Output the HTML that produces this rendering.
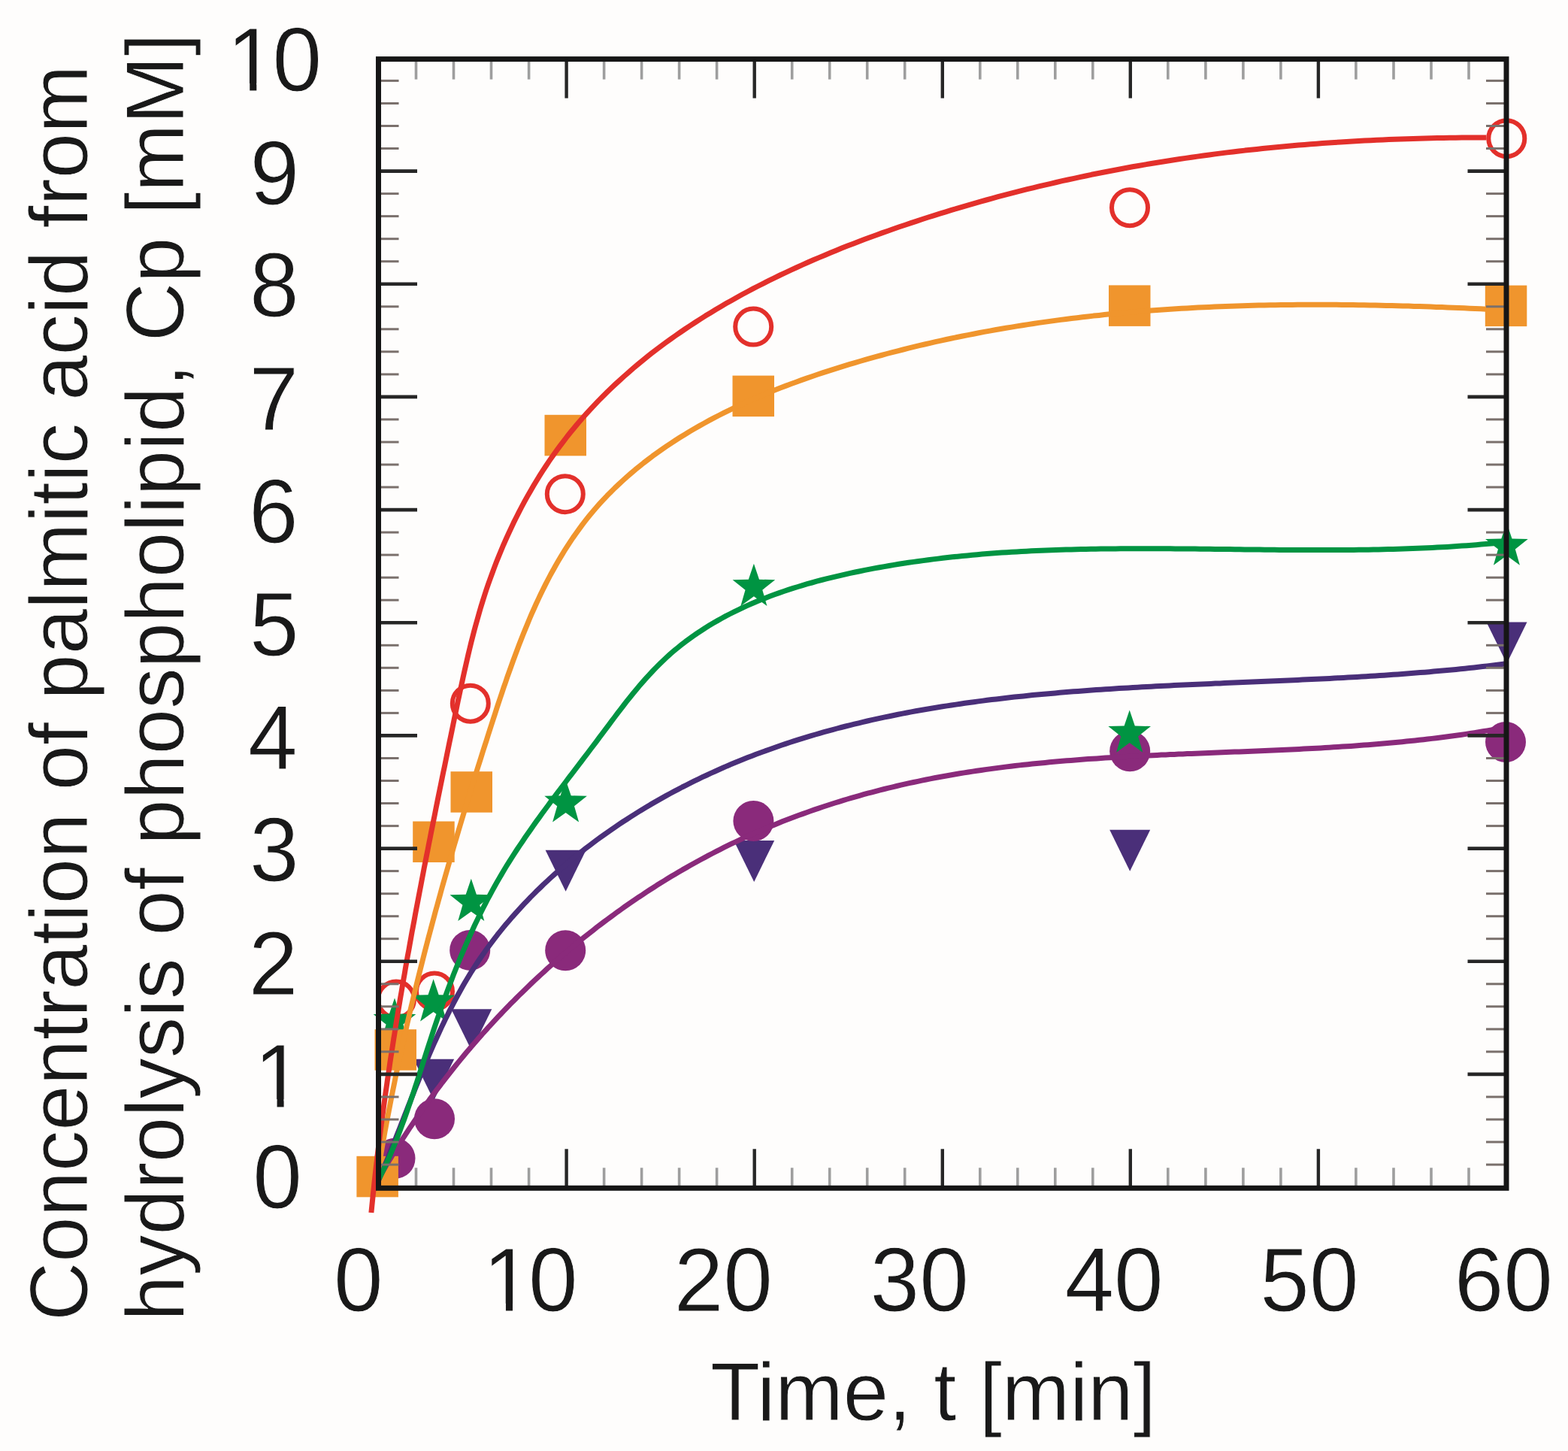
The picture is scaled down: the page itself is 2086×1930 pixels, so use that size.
<!DOCTYPE html><html><head><meta charset="utf-8"><title>Palmitic acid concentration vs time</title>
<style>html,body{margin:0;padding:0;background:#fefdfc;}svg{display:block}</style></head><body>
<svg xmlns="http://www.w3.org/2000/svg" width="2086" height="1930" viewBox="0 0 2086 1930">
<rect x="0" y="0" width="2086" height="1930" fill="#fefdfc"/>
<g fill="#4a2f79"><polygon points="499.5,1372 553.5,1372 526.5,1427"/><polygon points="550.2,1408.8 604.2,1408.8 577.2,1463.8"/><polygon points="600.3,1342.3 654.3,1342.3 627.3,1397.3"/><polygon points="725.6,1130.7 779.6,1130.7 752.6,1185.7"/><polygon points="976.2,1117.9 1030.2,1117.9 1003.2,1172.9"/><polygon points="1476.2,1103.8 1530.2,1103.8 1503.2,1158.8"/><polygon points="1977.5,827.5 2031.5,827.5 2004.5,882.5"/></g>
<g fill="#8a2a7b"><circle cx="525.5" cy="1540.8" r="27"/><circle cx="578" cy="1488.2" r="27"/><circle cx="625.2" cy="1263.9" r="27"/><circle cx="752.2" cy="1264.2" r="27"/><circle cx="1002.4" cy="1092" r="27"/><circle cx="1503.2" cy="999.2" r="27"/><circle cx="2003" cy="987" r="27"/></g>
<g fill="#fefdfc" stroke="#e3302b" stroke-width="6"><circle cx="527" cy="1329.5" r="24"/><circle cx="578" cy="1318.5" r="24"/><circle cx="625.8" cy="935.7" r="24"/><circle cx="751.8" cy="657.2" r="24"/><circle cx="1002.2" cy="434.6" r="24"/><circle cx="1503" cy="276.2" r="24"/><circle cx="2004.3" cy="184.2" r="24"/></g>
<g fill="#009442"><polygon points="525,1327.6 532.1,1348.6 553.3,1349.1 536.4,1362.6 542.5,1383.9 525,1371.2 507.5,1383.9 513.6,1362.6 496.7,1349.1 517.9,1348.6"/><polygon points="576.6,1302.3 583.7,1323.3 604.9,1323.8 588,1337.3 594.1,1358.6 576.6,1345.9 559.1,1358.6 565.2,1337.3 548.3,1323.8 569.5,1323.3"/><polygon points="626.8,1168.8 633.9,1189.8 655.1,1190.3 638.2,1203.8 644.3,1225.1 626.8,1212.4 609.3,1225.1 615.4,1203.8 598.5,1190.3 619.7,1189.8"/><polygon points="752.6,1037.3 759.7,1058.3 780.9,1058.8 764,1072.3 770.1,1093.6 752.6,1080.9 735.1,1093.6 741.2,1072.3 724.3,1058.8 745.5,1058.3"/><polygon points="1002.9,749.7 1010,770.7 1031.2,771.2 1014.3,784.7 1020.4,806 1002.9,793.3 985.4,806 991.5,784.7 974.6,771.2 995.8,770.7"/><polygon points="1502.7,944.5 1509.8,965.5 1531,966 1514.1,979.5 1520.2,1000.8 1502.7,988.1 1485.2,1000.8 1491.3,979.5 1474.4,966 1495.6,965.5"/><polygon points="2004.4,695.4 2011.5,716.4 2032.7,716.9 2015.8,730.4 2021.9,751.7 2004.4,739 1986.9,751.7 1993,730.4 1976.1,716.9 1997.3,716.4"/></g>
<g fill="#f0952d"><rect x="474.4" y="1537.8" width="55.5" height="54.5"/><rect x="498.5" y="1369.2" width="55.5" height="54.5"/><rect x="549.2" y="1092.5" width="55.5" height="54.5"/><rect x="599.5" y="1026.2" width="55.5" height="54.5"/><rect x="724.5" y="551.8" width="55.5" height="54.5"/><rect x="974.5" y="499.6" width="55.5" height="54.5"/><rect x="1475" y="379.4" width="55.5" height="54.5"/><rect x="1975.8" y="379.6" width="55.5" height="54.5"/></g>
<path d="M500.6,1573 L503.4,1568.1 L506.2,1563.2 L509.1,1558.3 L511.9,1553.4 L514.8,1548.5 L517.7,1543.6 L520.7,1538.8 L523.6,1533.9 L526.6,1529.1 L529.7,1524.3 L532.7,1519.5 L535.8,1514.7 L538.9,1509.9 L542,1505.1 L545.1,1500.4 L548.3,1495.7 L551.5,1490.9 L554.7,1486.2 L558,1481.5 L561.3,1476.9 L564.6,1472.2 L567.9,1467.6 L571.2,1462.9 L574.6,1458.3 L578,1453.7 L581.4,1449.1 L584.9,1444.6 L588.3,1440 L591.8,1435.5 L595.3,1431 L598.9,1426.5 L602.4,1422 L606,1417.5 L609.6,1413.1 L613.3,1408.6 L616.9,1404.2 L620.6,1399.8 L624.3,1395.5 L628,1391.1 L631.8,1386.8 L635.5,1382.4 L639.3,1378.1 L643.1,1373.8 L647,1369.6 L650.8,1365.3 L654.7,1361.1 L658.6,1356.9 L662.5,1352.7 L666.5,1348.5 L670.4,1344.4 L674.4,1340.3 L678.4,1336.1 L682.5,1332.1 L686.5,1328 L690.6,1323.9 L694.7,1319.9 L698.8,1315.9 L702.9,1311.9 L707.1,1307.9 L711.2,1304 L715.4,1300.1 L719.6,1296.2 L723.9,1292.3 L728.1,1288.4 L732.4,1284.6 L736.7,1280.8 L741,1277 L745.3,1273.2 L749.6,1269.5 L754,1265.8 L758.4,1262.1 L762.8,1258.4 L767.2,1254.8 L771.7,1251.1 L776.1,1247.5 L780.6,1243.9 L785.1,1240.4 L789.6,1236.9 L794.1,1233.3 L798.7,1229.9 L803.3,1226.4 L807.9,1223 L812.5,1219.6 L817.1,1216.2 L821.7,1212.8 L826.4,1209.5 L831,1206.2 L835.7,1202.9 L840.4,1199.7 L845.2,1196.4 L849.9,1193.2 L854.7,1190.1 L859.4,1186.9 L864.2,1183.8 L869,1180.7 L873.8,1177.6 L878.7,1174.6 L883.5,1171.6 L888.4,1168.6 L893.3,1165.6 L898.2,1162.7 L903.1,1159.8 L908,1156.9 L913,1154.1 L917.9,1151.3 L922.9,1148.5 L927.9,1145.7 L932.9,1143 L937.9,1140.3 L942.9,1137.6 L948,1135 L953,1132.4 L958.1,1129.8 L963.2,1127.2 L968.3,1124.7 L973.4,1122.2 L978.5,1119.8 L983.7,1117.3 L988.8,1114.9 L994,1112.6 L999.2,1110.2 L1004.4,1107.9 L1009.6,1105.7 L1014.8,1103.4 L1020,1101.2 L1025.3,1099 L1030.5,1096.9 L1035.8,1094.7 L1041.1,1092.6 L1046.4,1090.6 L1051.7,1088.5 L1057,1086.5 L1062.3,1084.5 L1067.7,1082.6 L1073,1080.7 L1078.4,1078.8 L1083.7,1076.9 L1089.1,1075.1 L1094.5,1073.3 L1099.9,1071.5 L1105.3,1069.7 L1110.7,1068 L1116.2,1066.3 L1121.6,1064.6 L1127,1063 L1132.5,1061.4 L1138,1059.8 L1143.4,1058.3 L1148.9,1056.7 L1154.4,1055.2 L1159.9,1053.8 L1165.4,1052.3 L1170.9,1050.9 L1176.4,1049.5 L1182,1048.1 L1187.5,1046.8 L1193,1045.5 L1198.6,1044.2 L1204.2,1042.9 L1209.7,1041.7 L1215.3,1040.5 L1220.9,1039.3 L1226.4,1038.1 L1232,1037 L1237.6,1035.9 L1243.2,1034.8 L1248.8,1033.7 L1254.4,1032.7 L1260.1,1031.7 L1265.7,1030.7 L1271.3,1029.7 L1276.9,1028.8 L1282.6,1027.9 L1288.2,1027 L1293.9,1026.1 L1299.5,1025.3 L1305.2,1024.5 L1310.8,1023.6 L1316.5,1022.9 L1322.1,1022.1 L1327.8,1021.4 L1333.5,1020.6 L1339.2,1019.9 L1344.8,1019.2 L1350.5,1018.6 L1356.2,1017.9 L1361.9,1017.3 L1367.6,1016.7 L1373.3,1016.1 L1379,1015.5 L1384.7,1014.9 L1390.4,1014.4 L1396.1,1013.8 L1401.8,1013.3 L1407.5,1012.8 L1413.2,1012.3 L1419,1011.8 L1424.7,1011.4 L1430.4,1010.9 L1436.1,1010.5 L1441.8,1010.1 L1447.6,1009.6 L1453.3,1009.2 L1459,1008.9 L1464.7,1008.5 L1470.5,1008.1 L1476.2,1007.8 L1481.9,1007.4 L1487.7,1007.1 L1493.4,1006.7 L1499.1,1006.4 L1504.9,1006.1 L1510.6,1005.8 L1516.3,1005.5 L1522.1,1005.2 L1527.8,1004.9 L1533.5,1004.7 L1539.3,1004.4 L1545,1004.1 L1550.8,1003.9 L1556.5,1003.6 L1562.2,1003.4 L1568,1003.1 L1573.7,1002.9 L1579.4,1002.6 L1585.2,1002.4 L1590.9,1002.2 L1596.7,1001.9 L1602.4,1001.7 L1608.1,1001.5 L1613.9,1001.2 L1619.6,1001 L1625.3,1000.8 L1631.1,1000.6 L1636.8,1000.3 L1642.5,1000.1 L1648.3,999.9 L1654,999.7 L1659.8,999.4 L1665.5,999.2 L1671.2,999 L1677,998.7 L1682.7,998.5 L1688.4,998.2 L1694.1,998 L1699.9,997.7 L1705.6,997.5 L1711.3,997.2 L1717,996.9 L1722.8,996.7 L1728.5,996.4 L1734.2,996.1 L1739.9,995.8 L1745.7,995.5 L1751.4,995.2 L1757.1,994.9 L1762.8,994.5 L1768.5,994.2 L1774.2,993.8 L1779.9,993.5 L1785.7,993.1 L1791.4,992.7 L1797.1,992.4 L1802.8,992 L1808.5,991.5 L1814.2,991.1 L1819.9,990.7 L1825.6,990.2 L1831.3,989.8 L1837,989.3 L1842.7,988.8 L1848.3,988.3 L1854,987.8 L1859.7,987.3 L1865.4,986.7 L1871.1,986.1 L1876.7,985.6 L1882.4,985 L1888.1,984.3 L1893.8,983.7 L1899.4,983.1 L1905.1,982.4 L1910.8,981.7 L1916.4,981 L1922.1,980.3 L1927.7,979.5 L1933.4,978.8 L1939,978 L1944.7,977.2 L1950.3,976.4 L1956,975.5 L1961.6,974.6 L1967.2,973.7 L1972.9,972.8 L1978.5,971.9 L1984.1,970.9 L1989.7,969.9 L1995.3,968.9 L2001,967.9" fill="none" stroke="#8a2a7b" stroke-width="7" stroke-linecap="butt" stroke-linejoin="round"/>
<path d="M500.1,1578 L502.5,1572.5 L504.9,1566.9 L507.2,1561.4 L509.6,1555.8 L511.9,1550.2 L514.2,1544.6 L516.5,1539 L518.8,1533.3 L521,1527.7 L523.3,1522.1 L525.5,1516.5 L527.7,1510.8 L529.9,1505.2 L532.2,1499.5 L534.4,1493.9 L536.6,1488.3 L538.8,1482.6 L541,1477 L543.2,1471.3 L545.4,1465.7 L547.6,1460.1 L549.9,1454.5 L552.1,1448.8 L554.3,1443.2 L556.6,1437.6 L558.9,1432 L561.1,1426.5 L563.4,1420.9 L565.8,1415.3 L568.1,1409.8 L570.4,1404.2 L572.8,1398.7 L575.2,1393.2 L577.6,1387.7 L580.1,1382.2 L582.6,1376.8 L585.1,1371.3 L587.6,1365.9 L590.2,1360.5 L592.8,1355.1 L595.5,1349.7 L598.1,1344.4 L600.9,1339.1 L603.6,1333.8 L606.4,1328.5 L609.3,1323.2 L612.2,1318 L615.1,1312.8 L618.1,1307.6 L621.1,1302.5 L624.2,1297.4 L627.3,1292.3 L630.5,1287.3 L633.8,1282.3 L637.1,1277.3 L640.5,1272.3 L643.9,1267.4 L647.4,1262.5 L650.9,1257.7 L654.5,1252.9 L658.1,1248.1 L661.8,1243.3 L665.6,1238.6 L669.4,1233.9 L673.2,1229.3 L677.2,1224.7 L681.1,1220.1 L685.1,1215.6 L689.2,1211.1 L693.3,1206.6 L697.4,1202.2 L701.6,1197.8 L705.8,1193.4 L710.1,1189.1 L714.4,1184.8 L718.8,1180.6 L723.2,1176.3 L727.6,1172.2 L732.1,1168 L736.7,1163.9 L741.2,1159.8 L745.8,1155.8 L750.5,1151.8 L755.1,1147.8 L759.8,1143.9 L764.6,1140 L769.3,1136.2 L774.1,1132.4 L779,1128.6 L783.8,1124.9 L788.7,1121.2 L793.6,1117.5 L798.6,1113.9 L803.6,1110.3 L808.6,1106.8 L813.6,1103.3 L818.7,1099.8 L823.7,1096.4 L828.8,1093 L834,1089.7 L839.1,1086.4 L844.3,1083.1 L849.4,1079.9 L854.6,1076.7 L859.9,1073.6 L865.1,1070.4 L870.3,1067.4 L875.6,1064.4 L880.9,1061.4 L886.2,1058.4 L891.5,1055.5 L896.8,1052.7 L902.2,1049.8 L907.5,1047 L912.9,1044.3 L918.2,1041.6 L923.6,1038.9 L929,1036.3 L934.4,1033.7 L939.8,1031.2 L945.3,1028.6 L950.7,1026.2 L956.2,1023.7 L961.7,1021.3 L967.1,1018.9 L972.6,1016.6 L978.1,1014.3 L983.7,1012 L989.2,1009.8 L994.7,1007.6 L1000.3,1005.5 L1005.8,1003.3 L1011.4,1001.3 L1017,999.2 L1022.6,997.2 L1028.2,995.2 L1033.8,993.2 L1039.4,991.3 L1045.1,989.4 L1050.7,987.5 L1056.4,985.7 L1062,983.9 L1067.7,982.1 L1073.4,980.4 L1079.1,978.7 L1084.8,977 L1090.5,975.3 L1096.2,973.7 L1102,972.1 L1107.7,970.6 L1113.5,969 L1119.2,967.5 L1125,966 L1130.8,964.6 L1136.5,963.2 L1142.3,961.8 L1148.1,960.4 L1153.9,959 L1159.8,957.7 L1165.6,956.4 L1171.4,955.1 L1177.2,953.9 L1183.1,952.7 L1189,951.5 L1194.8,950.3 L1200.7,949.1 L1206.6,948 L1212.4,946.9 L1218.3,945.8 L1224.2,944.8 L1230.1,943.7 L1236,942.7 L1242,941.7 L1247.9,940.7 L1253.8,939.8 L1259.8,938.9 L1265.7,938 L1271.6,937.1 L1277.6,936.2 L1283.6,935.3 L1289.5,934.5 L1295.5,933.7 L1301.5,932.9 L1307.4,932.1 L1313.4,931.3 L1319.4,930.6 L1325.4,929.9 L1331.4,929.2 L1337.4,928.5 L1343.4,927.8 L1349.5,927.1 L1355.5,926.5 L1361.5,925.9 L1367.5,925.2 L1373.6,924.6 L1379.6,924.1 L1385.6,923.5 L1391.7,922.9 L1397.7,922.4 L1403.8,921.9 L1409.8,921.3 L1415.9,920.8 L1421.9,920.3 L1428,919.8 L1434.1,919.4 L1440.1,918.9 L1446.2,918.5 L1452.3,918 L1458.4,917.6 L1464.4,917.2 L1470.5,916.8 L1476.6,916.4 L1482.7,916 L1488.8,915.6 L1494.9,915.2 L1501,914.9 L1507.1,914.5 L1513.2,914.2 L1519.2,913.8 L1525.3,913.5 L1531.4,913.2 L1537.5,912.8 L1543.6,912.5 L1549.7,912.2 L1555.9,911.9 L1562,911.6 L1568.1,911.3 L1574.2,911 L1580.3,910.8 L1586.4,910.5 L1592.5,910.2 L1598.6,909.9 L1604.7,909.7 L1610.8,909.4 L1616.9,909.1 L1623,908.9 L1629.1,908.6 L1635.2,908.3 L1641.3,908.1 L1647.4,907.8 L1653.5,907.6 L1659.6,907.3 L1665.7,907 L1671.8,906.8 L1677.9,906.5 L1684,906.3 L1690.1,906 L1696.2,905.7 L1702.3,905.5 L1708.3,905.2 L1714.4,904.9 L1720.5,904.7 L1726.6,904.4 L1732.7,904.1 L1738.7,903.8 L1744.8,903.5 L1750.9,903.3 L1756.9,903 L1763,902.7 L1769.1,902.4 L1775.1,902 L1781.2,901.7 L1787.2,901.4 L1793.3,901.1 L1799.3,900.7 L1805.3,900.4 L1811.4,900 L1817.4,899.7 L1823.4,899.3 L1829.5,898.9 L1835.5,898.6 L1841.5,898.2 L1847.5,897.8 L1853.5,897.3 L1859.5,896.9 L1865.5,896.5 L1871.5,896 L1877.5,895.6 L1883.5,895.1 L1889.4,894.6 L1895.4,894.2 L1901.4,893.7 L1907.3,893.1 L1913.3,892.6 L1919.2,892.1 L1925.2,891.5 L1931.1,891 L1937,890.4 L1943,889.8 L1948.9,889.2 L1954.8,888.6 L1960.7,887.9 L1966.6,887.3 L1972.5,886.6 L1978.4,885.9 L1984.2,885.2 L1990.1,884.5 L1996,883.8 L2001.8,883" fill="none" stroke="#4a2f79" stroke-width="7" stroke-linecap="butt" stroke-linejoin="round"/>
<path d="M498.1,1579.7 L501.2,1574 L504.2,1568.2 L507.1,1562.3 L509.9,1556.4 L512.7,1550.5 L515.4,1544.6 L518,1538.6 L520.6,1532.6 L523.2,1526.5 L525.6,1520.5 L528.1,1514.4 L530.5,1508.3 L532.8,1502.1 L535.1,1495.9 L537.4,1489.8 L539.6,1483.6 L541.8,1477.3 L543.9,1471.1 L546.1,1464.9 L548.2,1458.6 L550.3,1452.3 L552.3,1446 L554.4,1439.8 L556.4,1433.5 L558.4,1427.2 L560.5,1420.9 L562.5,1414.6 L564.5,1408.3 L566.5,1402 L568.5,1395.7 L570.6,1389.4 L572.6,1383.2 L574.7,1376.9 L576.7,1370.6 L578.8,1364.4 L580.9,1358.2 L583,1352 L585.2,1345.8 L587.4,1339.6 L589.6,1333.4 L591.8,1327.3 L594,1321.2 L596.3,1315.1 L598.6,1309 L600.9,1302.9 L603.2,1296.8 L605.6,1290.8 L608,1284.7 L610.5,1278.7 L612.9,1272.7 L615.4,1266.8 L618,1260.8 L620.6,1254.9 L623.2,1249 L625.8,1243.1 L628.5,1237.2 L631.2,1231.3 L634,1225.5 L636.8,1219.7 L639.6,1213.9 L642.5,1208.2 L645.5,1202.4 L648.4,1196.7 L651.5,1191 L654.5,1185.3 L657.6,1179.7 L660.8,1174.1 L664,1168.5 L667.3,1162.9 L670.6,1157.3 L673.9,1151.8 L677.3,1146.3 L680.8,1140.9 L684.3,1135.4 L687.8,1130 L691.4,1124.6 L695.1,1119.2 L698.7,1113.8 L702.4,1108.4 L706.2,1103.1 L709.9,1097.7 L713.7,1092.4 L717.6,1087.1 L721.4,1081.8 L725.3,1076.5 L729.2,1071.2 L733.1,1065.9 L737.1,1060.6 L741,1055.3 L745,1050.1 L749,1044.8 L753,1039.5 L757,1034.2 L761.1,1028.9 L765.1,1023.6 L769.1,1018.3 L773.2,1013 L777.2,1007.7 L781.3,1002.4 L785.3,997 L789.4,991.7 L793.4,986.3 L797.4,980.9 L801.4,975.6 L805.5,970.2 L809.5,964.8 L813.5,959.4 L817.6,954 L821.6,948.6 L825.7,943.3 L829.8,938 L833.9,932.7 L838.1,927.5 L842.3,922.3 L846.5,917.2 L850.8,912.1 L855.1,907.1 L859.5,902.1 L863.9,897.3 L868.4,892.5 L872.9,887.8 L877.5,883.2 L882.2,878.7 L886.9,874.3 L891.7,869.9 L896.6,865.7 L901.6,861.6 L906.6,857.6 L911.6,853.7 L916.8,849.9 L922,846.1 L927.2,842.5 L932.6,839 L937.9,835.5 L943.4,832.1 L948.9,828.8 L954.4,825.6 L960,822.5 L965.6,819.4 L971.3,816.5 L977,813.6 L982.8,810.8 L988.6,808 L994.5,805.4 L1000.4,802.8 L1006.3,800.2 L1012.3,797.8 L1018.3,795.4 L1024.4,793.1 L1030.5,790.8 L1036.6,788.6 L1042.7,786.5 L1048.9,784.4 L1055.1,782.4 L1061.4,780.5 L1067.6,778.6 L1073.9,776.7 L1080.2,775 L1086.5,773.2 L1092.9,771.5 L1099.2,769.9 L1105.6,768.3 L1112,766.8 L1118.4,765.3 L1124.8,763.8 L1131.2,762.4 L1137.7,761 L1144.1,759.7 L1150.5,758.4 L1157,757.1 L1163.4,755.9 L1169.9,754.7 L1176.4,753.6 L1182.8,752.5 L1189.3,751.4 L1195.8,750.3 L1202.3,749.3 L1208.8,748.3 L1215.3,747.4 L1221.8,746.5 L1228.3,745.6 L1234.8,744.7 L1241.3,743.9 L1247.8,743.1 L1254.3,742.3 L1260.8,741.6 L1267.3,740.8 L1273.9,740.2 L1280.4,739.5 L1286.9,738.9 L1293.5,738.3 L1300,737.7 L1306.5,737.1 L1313.1,736.6 L1319.6,736.1 L1326.2,735.6 L1332.8,735.1 L1339.3,734.7 L1345.9,734.3 L1352.4,733.9 L1359,733.5 L1365.6,733.2 L1372.1,732.8 L1378.7,732.5 L1385.3,732.2 L1391.9,732 L1398.4,731.7 L1405,731.5 L1411.6,731.3 L1418.2,731.1 L1424.8,730.9 L1431.4,730.7 L1438,730.5 L1444.6,730.4 L1451.2,730.3 L1457.8,730.2 L1464.3,730.1 L1470.9,730 L1477.5,729.9 L1484.1,729.9 L1490.7,729.8 L1497.4,729.8 L1504,729.7 L1510.6,729.7 L1517.2,729.7 L1523.8,729.7 L1530.4,729.7 L1537,729.7 L1543.6,729.8 L1550.2,729.8 L1556.8,729.8 L1563.4,729.9 L1570,729.9 L1576.6,730 L1583.3,730 L1589.9,730.1 L1596.5,730.2 L1603.1,730.2 L1609.7,730.3 L1616.3,730.4 L1622.9,730.5 L1629.5,730.6 L1636.1,730.6 L1642.7,730.7 L1649.3,730.8 L1655.9,730.9 L1662.5,730.9 L1669.1,731 L1675.8,731.1 L1682.4,731.2 L1689,731.2 L1695.6,731.3 L1702.1,731.4 L1708.7,731.4 L1715.3,731.5 L1721.9,731.5 L1728.5,731.5 L1735.1,731.6 L1741.7,731.6 L1748.3,731.6 L1754.9,731.6 L1761.5,731.6 L1768,731.6 L1774.6,731.6 L1781.2,731.6 L1787.8,731.5 L1794.3,731.5 L1800.9,731.4 L1807.5,731.3 L1814,731.3 L1820.6,731.2 L1827.2,731 L1833.7,730.9 L1840.3,730.8 L1846.8,730.6 L1853.4,730.4 L1859.9,730.3 L1866.5,730.1 L1873,729.8 L1879.5,729.6 L1886.1,729.3 L1892.6,729.1 L1899.1,728.8 L1905.6,728.5 L1912.1,728.1 L1918.7,727.8 L1925.2,727.4 L1931.7,727 L1938.2,726.6 L1944.7,726.1 L1951.2,725.7 L1957.7,725.2 L1964.1,724.7 L1970.6,724.1 L1977.1,723.6 L1983.6,723 L1990,722.4 L1996.5,721.8 L2002.9,721.1" fill="none" stroke="#009442" stroke-width="7" stroke-linecap="butt" stroke-linejoin="round"/>
<path d="M499.8,1578 L500.9,1570.6 L502.1,1563.3 L503.3,1556 L504.5,1548.7 L505.7,1541.4 L507,1534.1 L508.2,1526.8 L509.5,1519.5 L510.8,1512.3 L512.1,1505 L513.5,1497.7 L514.8,1490.5 L516.2,1483.3 L517.6,1476 L519,1468.8 L520.4,1461.6 L521.8,1454.3 L523.3,1447.1 L524.8,1439.9 L526.2,1432.7 L527.7,1425.5 L529.3,1418.3 L530.8,1411.2 L532.3,1404 L533.9,1396.8 L535.5,1389.6 L537.1,1382.5 L538.7,1375.3 L540.3,1368.2 L541.9,1361 L543.6,1353.9 L545.2,1346.7 L546.9,1339.6 L548.6,1332.5 L550.3,1325.3 L552.1,1318.2 L553.8,1311.1 L555.5,1304 L557.3,1296.9 L559.1,1289.7 L560.9,1282.6 L562.7,1275.5 L564.5,1268.4 L566.3,1261.3 L568.2,1254.2 L570,1247.1 L571.9,1240.1 L573.8,1233 L575.7,1225.9 L577.6,1218.8 L579.5,1211.7 L581.5,1204.6 L583.4,1197.6 L585.4,1190.5 L587.3,1183.4 L589.3,1176.3 L591.3,1169.3 L593.3,1162.2 L595.4,1155.1 L597.4,1148 L599.4,1141 L601.5,1133.9 L603.5,1126.8 L605.6,1119.8 L607.7,1112.7 L609.8,1105.6 L611.9,1098.5 L614,1091.5 L616.1,1084.4 L618.3,1077.3 L620.4,1070.3 L622.6,1063.2 L624.8,1056.1 L626.9,1049 L629.1,1042 L631.3,1034.9 L633.5,1027.8 L635.7,1020.7 L638,1013.6 L640.2,1006.6 L642.4,999.5 L644.7,992.4 L647,985.3 L649.2,978.2 L651.5,971.1 L653.8,964 L656.1,956.9 L658.4,949.8 L660.7,942.7 L663,935.6 L665.4,928.5 L667.8,921.4 L670.1,914.4 L672.6,907.3 L675,900.2 L677.5,893.2 L680,886.2 L682.5,879.2 L685.1,872.2 L687.7,865.2 L690.3,858.3 L693,851.4 L695.7,844.5 L698.5,837.6 L701.3,830.8 L704.1,824 L707,817.2 L710,810.5 L713,803.8 L716.1,797.1 L719.2,790.5 L722.4,784 L725.7,777.4 L729,771 L732.4,764.5 L735.9,758.2 L739.5,751.8 L743.1,745.6 L746.8,739.4 L750.5,733.2 L754.4,727.1 L758.3,721.1 L762.3,715.1 L766.5,709.2 L770.7,703.4 L774.9,697.6 L779.3,691.9 L783.8,686.3 L788.4,680.8 L793.1,675.3 L797.8,669.9 L802.7,664.6 L807.7,659.3 L812.8,654.2 L817.9,649.1 L823.2,644.1 L828.5,639.2 L833.9,634.3 L839.5,629.5 L845,624.8 L850.7,620.2 L856.4,615.6 L862.3,611.1 L868.1,606.7 L874.1,602.4 L880.1,598.1 L886.2,593.9 L892.3,589.8 L898.5,585.8 L904.7,581.8 L911,577.9 L917.4,574 L923.8,570.3 L930.2,566.6 L936.7,563 L943.2,559.4 L949.8,555.9 L956.4,552.5 L963,549.1 L969.7,545.8 L976.4,542.6 L983.1,539.4 L989.9,536.3 L996.7,533.2 L1003.5,530.2 L1010.3,527.3 L1017.2,524.4 L1024.1,521.6 L1031.1,518.8 L1038,516 L1045,513.4 L1052,510.7 L1059,508.2 L1066,505.6 L1073.1,503.1 L1080.1,500.7 L1087.2,498.3 L1094.3,495.9 L1101.4,493.6 L1108.5,491.3 L1115.6,489.1 L1122.7,486.9 L1129.9,484.7 L1137,482.6 L1144.1,480.5 L1151.3,478.4 L1158.4,476.4 L1165.6,474.4 L1172.7,472.5 L1179.9,470.5 L1187.1,468.6 L1194.2,466.8 L1201.4,465 L1208.6,463.2 L1215.7,461.4 L1222.9,459.7 L1230.1,458 L1237.3,456.3 L1244.5,454.7 L1251.7,453.1 L1258.9,451.5 L1266.1,450 L1273.3,448.5 L1280.6,447 L1287.8,445.6 L1295,444.2 L1302.2,442.8 L1309.4,441.4 L1316.7,440.1 L1323.9,438.8 L1331.2,437.5 L1338.4,436.3 L1345.7,435.1 L1352.9,433.9 L1360.2,432.7 L1367.4,431.6 L1374.7,430.5 L1381.9,429.4 L1389.2,428.4 L1396.5,427.4 L1403.7,426.4 L1411,425.4 L1418.3,424.5 L1425.6,423.5 L1432.9,422.7 L1440.2,421.8 L1447.4,421 L1454.7,420.1 L1462,419.4 L1469.3,418.6 L1476.6,417.8 L1483.9,417.1 L1491.2,416.4 L1498.6,415.8 L1505.9,415.1 L1513.2,414.5 L1520.5,413.9 L1527.8,413.3 L1535.1,412.8 L1542.5,412.2 L1549.8,411.7 L1557.1,411.2 L1564.4,410.7 L1571.8,410.3 L1579.1,409.9 L1586.4,409.5 L1593.8,409.1 L1601.1,408.7 L1608.5,408.4 L1615.8,408 L1623.2,407.7 L1630.5,407.4 L1637.9,407.2 L1645.2,406.9 L1652.6,406.7 L1659.9,406.5 L1667.3,406.3 L1674.6,406.1 L1682,405.9 L1689.4,405.8 L1696.7,405.7 L1704.1,405.6 L1711.5,405.5 L1718.8,405.4 L1726.2,405.3 L1733.6,405.3 L1740.9,405.2 L1748.3,405.2 L1755.7,405.2 L1763.1,405.3 L1770.4,405.3 L1777.8,405.3 L1785.2,405.4 L1792.6,405.5 L1800,405.6 L1807.3,405.7 L1814.7,405.8 L1822.1,405.9 L1829.5,406 L1836.9,406.2 L1844.3,406.4 L1851.7,406.5 L1859,406.7 L1866.4,406.9 L1873.8,407.1 L1881.2,407.4 L1888.6,407.6 L1896,407.8 L1903.4,408.1 L1910.8,408.4 L1918.2,408.6 L1925.6,408.9 L1933,409.2 L1940.4,409.5 L1947.8,409.8 L1955.1,410.2 L1962.5,410.5 L1969.9,410.8 L1977.3,411.2" fill="none" stroke="#f0952d" stroke-width="7" stroke-linecap="butt" stroke-linejoin="round"/>
<path d="M493.9,1613 L494.7,1605 L495.5,1597 L496.3,1588.9 L497.2,1580.9 L498,1572.9 L498.9,1564.9 L499.8,1556.9 L500.7,1548.9 L501.7,1541 L502.6,1533 L503.6,1525 L504.6,1517 L505.6,1509.1 L506.6,1501.1 L507.6,1493.2 L508.7,1485.2 L509.8,1477.2 L510.8,1469.3 L511.9,1461.4 L513,1453.4 L514.2,1445.5 L515.3,1437.6 L516.5,1429.6 L517.7,1421.7 L518.8,1413.8 L520,1405.9 L521.3,1398 L522.5,1390 L523.7,1382.1 L525,1374.2 L526.2,1366.3 L527.5,1358.4 L528.8,1350.5 L530.1,1342.6 L531.4,1334.8 L532.7,1326.9 L534.1,1319 L535.4,1311.1 L536.8,1303.2 L538.2,1295.3 L539.5,1287.4 L540.9,1279.6 L542.3,1271.7 L543.8,1263.8 L545.2,1255.9 L546.6,1248.1 L548,1240.2 L549.5,1232.3 L551,1224.5 L552.4,1216.6 L553.9,1208.7 L555.4,1200.9 L556.9,1193 L558.4,1185.1 L559.9,1177.3 L561.4,1169.4 L562.9,1161.6 L564.4,1153.7 L566,1145.8 L567.5,1138 L569.1,1130.1 L570.6,1122.2 L572.2,1114.4 L573.7,1106.5 L575.3,1098.7 L576.9,1090.8 L578.5,1082.9 L580,1075.1 L581.6,1067.2 L583.2,1059.3 L584.8,1051.5 L586.4,1043.6 L588,1035.7 L589.6,1027.9 L591.3,1020 L592.9,1012.1 L594.5,1004.3 L596.1,996.4 L597.7,988.5 L599.4,980.6 L601,972.7 L602.6,964.9 L604.2,957 L605.9,949.1 L607.5,941.2 L609.1,933.3 L610.8,925.4 L612.5,917.6 L614.2,909.7 L615.9,901.8 L617.6,893.9 L619.4,886.1 L621.2,878.2 L623,870.4 L624.9,862.5 L626.8,854.7 L628.8,846.9 L630.8,839.1 L632.9,831.3 L635.1,823.6 L637.3,815.8 L639.5,808.1 L641.9,800.4 L644.3,792.7 L646.8,785 L649.4,777.4 L652.1,769.8 L654.9,762.2 L657.7,754.6 L660.6,747.1 L663.6,739.6 L666.7,732.1 L669.8,724.7 L673.1,717.3 L676.4,710 L679.8,702.7 L683.2,695.4 L686.8,688.2 L690.4,681.1 L694.1,674 L697.9,666.9 L701.8,659.9 L705.8,652.9 L709.8,646 L713.9,639.2 L718.1,632.4 L722.4,625.7 L726.8,619 L731.2,612.4 L735.7,605.9 L740.3,599.5 L745,593.1 L749.8,586.8 L754.6,580.5 L759.6,574.3 L764.6,568.2 L769.6,562.2 L774.8,556.3 L780,550.4 L785.3,544.6 L790.7,538.8 L796.1,533.1 L801.7,527.5 L807.2,522 L812.9,516.5 L818.6,511.1 L824.4,505.8 L830.3,500.5 L836.2,495.3 L842.1,490.1 L848.2,485 L854.3,480 L860.4,475 L866.6,470.1 L872.9,465.3 L879.2,460.5 L885.6,455.8 L892.1,451.1 L898.6,446.5 L905.1,442 L911.7,437.5 L918.3,433.1 L925,428.7 L931.8,424.4 L938.5,420.1 L945.4,415.9 L952.2,411.8 L959.1,407.7 L966.1,403.6 L973.1,399.7 L980.1,395.7 L987.2,391.8 L994.3,388 L1001.5,384.2 L1008.6,380.5 L1015.9,376.8 L1023.1,373.2 L1030.4,369.6 L1037.7,366 L1045,362.6 L1052.4,359.1 L1059.8,355.7 L1067.2,352.4 L1074.7,349 L1082.1,345.8 L1089.6,342.6 L1097.2,339.4 L1104.7,336.3 L1112.2,333.2 L1119.8,330.1 L1127.4,327.1 L1135,324.2 L1142.6,321.2 L1150.3,318.3 L1157.9,315.5 L1165.6,312.7 L1173.3,309.9 L1181,307.2 L1188.6,304.5 L1196.4,301.8 L1204.1,299.2 L1211.8,296.6 L1219.5,294.1 L1227.2,291.5 L1234.9,289 L1242.7,286.6 L1250.4,284.2 L1258.1,281.8 L1265.8,279.4 L1273.6,277.1 L1281.3,274.8 L1289,272.6 L1296.8,270.3 L1304.5,268.1 L1312.2,266 L1320,263.8 L1327.7,261.7 L1335.5,259.7 L1343.2,257.6 L1351,255.6 L1358.7,253.7 L1366.5,251.7 L1374.3,249.8 L1382,247.9 L1389.8,246.1 L1397.6,244.3 L1405.3,242.5 L1413.1,240.7 L1420.9,239 L1428.7,237.3 L1436.5,235.6 L1444.3,234 L1452,232.3 L1459.8,230.8 L1467.6,229.2 L1475.4,227.7 L1483.3,226.2 L1491.1,224.7 L1498.9,223.3 L1506.7,221.8 L1514.5,220.5 L1522.3,219.1 L1530.2,217.8 L1538,216.5 L1545.9,215.2 L1553.7,214 L1561.5,212.7 L1569.4,211.5 L1577.3,210.4 L1585.1,209.2 L1593,208.1 L1600.9,207 L1608.7,206 L1616.6,204.9 L1624.5,203.9 L1632.4,202.9 L1640.3,202 L1648.2,201.1 L1656.1,200.1 L1664,199.3 L1671.9,198.4 L1679.8,197.6 L1687.8,196.8 L1695.7,196 L1703.6,195.2 L1711.6,194.5 L1719.5,193.8 L1727.5,193.1 L1735.5,192.4 L1743.4,191.8 L1751.4,191.2 L1759.4,190.6 L1767.4,190 L1775.4,189.5 L1783.4,189 L1791.4,188.5 L1799.4,188 L1807.4,187.5 L1815.4,187.1 L1823.4,186.7 L1831.5,186.3 L1839.5,185.9 L1847.6,185.6 L1855.6,185.3 L1863.7,185 L1871.8,184.7 L1879.9,184.4 L1887.9,184.2 L1896,184 L1904.1,183.8 L1912.2,183.6 L1920.4,183.5 L1928.5,183.3 L1936.6,183.2 L1944.8,183.1 L1952.9,183 L1961.1,183 L1969.2,183 L1977.4,182.9" fill="none" stroke="#e3302b" stroke-width="7" stroke-linecap="butt" stroke-linejoin="round"/>
<line x1="503.5" y1="1549.1" x2="530.5" y2="1549.1" stroke="#7a706c" stroke-width="3"/><line x1="2004" y1="1549.1" x2="1977" y2="1549.1" stroke="#7a706c" stroke-width="3"/><line x1="503.5" y1="1519" x2="530.5" y2="1519" stroke="#7a706c" stroke-width="3"/><line x1="2004" y1="1519" x2="1977" y2="1519" stroke="#7a706c" stroke-width="3"/><line x1="503.5" y1="1489" x2="530.5" y2="1489" stroke="#7a706c" stroke-width="3"/><line x1="2004" y1="1489" x2="1977" y2="1489" stroke="#7a706c" stroke-width="3"/><line x1="503.5" y1="1459" x2="530.5" y2="1459" stroke="#7a706c" stroke-width="3"/><line x1="2004" y1="1459" x2="1977" y2="1459" stroke="#7a706c" stroke-width="3"/><line x1="503.5" y1="1428.9" x2="555" y2="1428.9" stroke="#262626" stroke-width="4.6"/><line x1="2004" y1="1428.9" x2="1952.5" y2="1428.9" stroke="#262626" stroke-width="4.6"/><line x1="503.5" y1="1398.9" x2="530.5" y2="1398.9" stroke="#7a706c" stroke-width="3"/><line x1="2004" y1="1398.9" x2="1977" y2="1398.9" stroke="#7a706c" stroke-width="3"/><line x1="503.5" y1="1368.9" x2="530.5" y2="1368.9" stroke="#7a706c" stroke-width="3"/><line x1="2004" y1="1368.9" x2="1977" y2="1368.9" stroke="#7a706c" stroke-width="3"/><line x1="503.5" y1="1338.8" x2="530.5" y2="1338.8" stroke="#7a706c" stroke-width="3"/><line x1="2004" y1="1338.8" x2="1977" y2="1338.8" stroke="#7a706c" stroke-width="3"/><line x1="503.5" y1="1308.8" x2="530.5" y2="1308.8" stroke="#7a706c" stroke-width="3"/><line x1="2004" y1="1308.8" x2="1977" y2="1308.8" stroke="#7a706c" stroke-width="3"/><line x1="503.5" y1="1278.8" x2="555" y2="1278.8" stroke="#262626" stroke-width="4.6"/><line x1="2004" y1="1278.8" x2="1952.5" y2="1278.8" stroke="#262626" stroke-width="4.6"/><line x1="503.5" y1="1248.7" x2="530.5" y2="1248.7" stroke="#7a706c" stroke-width="3"/><line x1="2004" y1="1248.7" x2="1977" y2="1248.7" stroke="#7a706c" stroke-width="3"/><line x1="503.5" y1="1218.7" x2="530.5" y2="1218.7" stroke="#7a706c" stroke-width="3"/><line x1="2004" y1="1218.7" x2="1977" y2="1218.7" stroke="#7a706c" stroke-width="3"/><line x1="503.5" y1="1188.7" x2="530.5" y2="1188.7" stroke="#7a706c" stroke-width="3"/><line x1="2004" y1="1188.7" x2="1977" y2="1188.7" stroke="#7a706c" stroke-width="3"/><line x1="503.5" y1="1158.6" x2="530.5" y2="1158.6" stroke="#7a706c" stroke-width="3"/><line x1="2004" y1="1158.6" x2="1977" y2="1158.6" stroke="#7a706c" stroke-width="3"/><line x1="503.5" y1="1128.6" x2="555" y2="1128.6" stroke="#262626" stroke-width="4.6"/><line x1="2004" y1="1128.6" x2="1952.5" y2="1128.6" stroke="#262626" stroke-width="4.6"/><line x1="503.5" y1="1098.6" x2="530.5" y2="1098.6" stroke="#7a706c" stroke-width="3"/><line x1="2004" y1="1098.6" x2="1977" y2="1098.6" stroke="#7a706c" stroke-width="3"/><line x1="503.5" y1="1068.5" x2="530.5" y2="1068.5" stroke="#7a706c" stroke-width="3"/><line x1="2004" y1="1068.5" x2="1977" y2="1068.5" stroke="#7a706c" stroke-width="3"/><line x1="503.5" y1="1038.5" x2="530.5" y2="1038.5" stroke="#7a706c" stroke-width="3"/><line x1="2004" y1="1038.5" x2="1977" y2="1038.5" stroke="#7a706c" stroke-width="3"/><line x1="503.5" y1="1008.5" x2="530.5" y2="1008.5" stroke="#7a706c" stroke-width="3"/><line x1="2004" y1="1008.5" x2="1977" y2="1008.5" stroke="#7a706c" stroke-width="3"/><line x1="503.5" y1="978.4" x2="555" y2="978.4" stroke="#262626" stroke-width="4.6"/><line x1="2004" y1="978.4" x2="1952.5" y2="978.4" stroke="#262626" stroke-width="4.6"/><line x1="503.5" y1="948.4" x2="530.5" y2="948.4" stroke="#7a706c" stroke-width="3"/><line x1="2004" y1="948.4" x2="1977" y2="948.4" stroke="#7a706c" stroke-width="3"/><line x1="503.5" y1="918.4" x2="530.5" y2="918.4" stroke="#7a706c" stroke-width="3"/><line x1="2004" y1="918.4" x2="1977" y2="918.4" stroke="#7a706c" stroke-width="3"/><line x1="503.5" y1="888.3" x2="530.5" y2="888.3" stroke="#7a706c" stroke-width="3"/><line x1="2004" y1="888.3" x2="1977" y2="888.3" stroke="#7a706c" stroke-width="3"/><line x1="503.5" y1="858.3" x2="530.5" y2="858.3" stroke="#7a706c" stroke-width="3"/><line x1="2004" y1="858.3" x2="1977" y2="858.3" stroke="#7a706c" stroke-width="3"/><line x1="503.5" y1="828.2" x2="555" y2="828.2" stroke="#262626" stroke-width="4.6"/><line x1="2004" y1="828.2" x2="1952.5" y2="828.2" stroke="#262626" stroke-width="4.6"/><line x1="503.5" y1="798.2" x2="530.5" y2="798.2" stroke="#7a706c" stroke-width="3"/><line x1="2004" y1="798.2" x2="1977" y2="798.2" stroke="#7a706c" stroke-width="3"/><line x1="503.5" y1="768.2" x2="530.5" y2="768.2" stroke="#7a706c" stroke-width="3"/><line x1="2004" y1="768.2" x2="1977" y2="768.2" stroke="#7a706c" stroke-width="3"/><line x1="503.5" y1="738.1" x2="530.5" y2="738.1" stroke="#7a706c" stroke-width="3"/><line x1="2004" y1="738.1" x2="1977" y2="738.1" stroke="#7a706c" stroke-width="3"/><line x1="503.5" y1="708.1" x2="530.5" y2="708.1" stroke="#7a706c" stroke-width="3"/><line x1="2004" y1="708.1" x2="1977" y2="708.1" stroke="#7a706c" stroke-width="3"/><line x1="503.5" y1="678.1" x2="555" y2="678.1" stroke="#262626" stroke-width="4.6"/><line x1="2004" y1="678.1" x2="1952.5" y2="678.1" stroke="#262626" stroke-width="4.6"/><line x1="503.5" y1="648" x2="530.5" y2="648" stroke="#7a706c" stroke-width="3"/><line x1="2004" y1="648" x2="1977" y2="648" stroke="#7a706c" stroke-width="3"/><line x1="503.5" y1="618" x2="530.5" y2="618" stroke="#7a706c" stroke-width="3"/><line x1="2004" y1="618" x2="1977" y2="618" stroke="#7a706c" stroke-width="3"/><line x1="503.5" y1="588" x2="530.5" y2="588" stroke="#7a706c" stroke-width="3"/><line x1="2004" y1="588" x2="1977" y2="588" stroke="#7a706c" stroke-width="3"/><line x1="503.5" y1="557.9" x2="530.5" y2="557.9" stroke="#7a706c" stroke-width="3"/><line x1="2004" y1="557.9" x2="1977" y2="557.9" stroke="#7a706c" stroke-width="3"/><line x1="503.5" y1="527.9" x2="555" y2="527.9" stroke="#262626" stroke-width="4.6"/><line x1="2004" y1="527.9" x2="1952.5" y2="527.9" stroke="#262626" stroke-width="4.6"/><line x1="503.5" y1="497.9" x2="530.5" y2="497.9" stroke="#7a706c" stroke-width="3"/><line x1="2004" y1="497.9" x2="1977" y2="497.9" stroke="#7a706c" stroke-width="3"/><line x1="503.5" y1="467.8" x2="530.5" y2="467.8" stroke="#7a706c" stroke-width="3"/><line x1="2004" y1="467.8" x2="1977" y2="467.8" stroke="#7a706c" stroke-width="3"/><line x1="503.5" y1="437.8" x2="530.5" y2="437.8" stroke="#7a706c" stroke-width="3"/><line x1="2004" y1="437.8" x2="1977" y2="437.8" stroke="#7a706c" stroke-width="3"/><line x1="503.5" y1="407.8" x2="530.5" y2="407.8" stroke="#7a706c" stroke-width="3"/><line x1="2004" y1="407.8" x2="1977" y2="407.8" stroke="#7a706c" stroke-width="3"/><line x1="503.5" y1="377.7" x2="555" y2="377.7" stroke="#262626" stroke-width="4.6"/><line x1="2004" y1="377.7" x2="1952.5" y2="377.7" stroke="#262626" stroke-width="4.6"/><line x1="503.5" y1="347.7" x2="530.5" y2="347.7" stroke="#7a706c" stroke-width="3"/><line x1="2004" y1="347.7" x2="1977" y2="347.7" stroke="#7a706c" stroke-width="3"/><line x1="503.5" y1="317.7" x2="530.5" y2="317.7" stroke="#7a706c" stroke-width="3"/><line x1="2004" y1="317.7" x2="1977" y2="317.7" stroke="#7a706c" stroke-width="3"/><line x1="503.5" y1="287.6" x2="530.5" y2="287.6" stroke="#7a706c" stroke-width="3"/><line x1="2004" y1="287.6" x2="1977" y2="287.6" stroke="#7a706c" stroke-width="3"/><line x1="503.5" y1="257.6" x2="530.5" y2="257.6" stroke="#7a706c" stroke-width="3"/><line x1="2004" y1="257.6" x2="1977" y2="257.6" stroke="#7a706c" stroke-width="3"/><line x1="503.5" y1="227.6" x2="555" y2="227.6" stroke="#262626" stroke-width="4.6"/><line x1="2004" y1="227.6" x2="1952.5" y2="227.6" stroke="#262626" stroke-width="4.6"/><line x1="503.5" y1="197.5" x2="530.5" y2="197.5" stroke="#7a706c" stroke-width="3"/><line x1="2004" y1="197.5" x2="1977" y2="197.5" stroke="#7a706c" stroke-width="3"/><line x1="503.5" y1="167.5" x2="530.5" y2="167.5" stroke="#7a706c" stroke-width="3"/><line x1="2004" y1="167.5" x2="1977" y2="167.5" stroke="#7a706c" stroke-width="3"/><line x1="503.5" y1="137.5" x2="530.5" y2="137.5" stroke="#7a706c" stroke-width="3"/><line x1="2004" y1="137.5" x2="1977" y2="137.5" stroke="#7a706c" stroke-width="3"/><line x1="503.5" y1="107.4" x2="530.5" y2="107.4" stroke="#7a706c" stroke-width="3"/><line x1="2004" y1="107.4" x2="1977" y2="107.4" stroke="#7a706c" stroke-width="3"/><line x1="553.5" y1="1580.3" x2="553.5" y2="1553.3" stroke="#9e9e9e" stroke-width="3.6"/><line x1="553.5" y1="78.6" x2="553.5" y2="105.6" stroke="#9e9e9e" stroke-width="3.6"/><line x1="603.5" y1="1580.3" x2="603.5" y2="1553.3" stroke="#9e9e9e" stroke-width="3.6"/><line x1="603.5" y1="78.6" x2="603.5" y2="105.6" stroke="#9e9e9e" stroke-width="3.6"/><line x1="653.5" y1="1580.3" x2="653.5" y2="1553.3" stroke="#9e9e9e" stroke-width="3.6"/><line x1="653.5" y1="78.6" x2="653.5" y2="105.6" stroke="#9e9e9e" stroke-width="3.6"/><line x1="703.6" y1="1580.3" x2="703.6" y2="1553.3" stroke="#9e9e9e" stroke-width="3.6"/><line x1="703.6" y1="78.6" x2="703.6" y2="105.6" stroke="#9e9e9e" stroke-width="3.6"/><line x1="753.6" y1="1580.3" x2="753.6" y2="1528.3" stroke="#262626" stroke-width="4.4"/><line x1="753.6" y1="78.6" x2="753.6" y2="130.6" stroke="#262626" stroke-width="4.4"/><line x1="803.6" y1="1580.3" x2="803.6" y2="1553.3" stroke="#9e9e9e" stroke-width="3.6"/><line x1="803.6" y1="78.6" x2="803.6" y2="105.6" stroke="#9e9e9e" stroke-width="3.6"/><line x1="853.6" y1="1580.3" x2="853.6" y2="1553.3" stroke="#9e9e9e" stroke-width="3.6"/><line x1="853.6" y1="78.6" x2="853.6" y2="105.6" stroke="#9e9e9e" stroke-width="3.6"/><line x1="903.6" y1="1580.3" x2="903.6" y2="1553.3" stroke="#9e9e9e" stroke-width="3.6"/><line x1="903.6" y1="78.6" x2="903.6" y2="105.6" stroke="#9e9e9e" stroke-width="3.6"/><line x1="953.6" y1="1580.3" x2="953.6" y2="1553.3" stroke="#9e9e9e" stroke-width="3.6"/><line x1="953.6" y1="78.6" x2="953.6" y2="105.6" stroke="#9e9e9e" stroke-width="3.6"/><line x1="1003.7" y1="1580.3" x2="1003.7" y2="1528.3" stroke="#262626" stroke-width="4.4"/><line x1="1003.7" y1="78.6" x2="1003.7" y2="130.6" stroke="#262626" stroke-width="4.4"/><line x1="1053.7" y1="1580.3" x2="1053.7" y2="1553.3" stroke="#9e9e9e" stroke-width="3.6"/><line x1="1053.7" y1="78.6" x2="1053.7" y2="105.6" stroke="#9e9e9e" stroke-width="3.6"/><line x1="1103.7" y1="1580.3" x2="1103.7" y2="1553.3" stroke="#9e9e9e" stroke-width="3.6"/><line x1="1103.7" y1="78.6" x2="1103.7" y2="105.6" stroke="#9e9e9e" stroke-width="3.6"/><line x1="1153.7" y1="1580.3" x2="1153.7" y2="1553.3" stroke="#9e9e9e" stroke-width="3.6"/><line x1="1153.7" y1="78.6" x2="1153.7" y2="105.6" stroke="#9e9e9e" stroke-width="3.6"/><line x1="1203.7" y1="1580.3" x2="1203.7" y2="1553.3" stroke="#9e9e9e" stroke-width="3.6"/><line x1="1203.7" y1="78.6" x2="1203.7" y2="105.6" stroke="#9e9e9e" stroke-width="3.6"/><line x1="1253.8" y1="1580.3" x2="1253.8" y2="1528.3" stroke="#262626" stroke-width="4.4"/><line x1="1253.8" y1="78.6" x2="1253.8" y2="130.6" stroke="#262626" stroke-width="4.4"/><line x1="1303.8" y1="1580.3" x2="1303.8" y2="1553.3" stroke="#9e9e9e" stroke-width="3.6"/><line x1="1303.8" y1="78.6" x2="1303.8" y2="105.6" stroke="#9e9e9e" stroke-width="3.6"/><line x1="1353.8" y1="1580.3" x2="1353.8" y2="1553.3" stroke="#9e9e9e" stroke-width="3.6"/><line x1="1353.8" y1="78.6" x2="1353.8" y2="105.6" stroke="#9e9e9e" stroke-width="3.6"/><line x1="1403.8" y1="1580.3" x2="1403.8" y2="1553.3" stroke="#9e9e9e" stroke-width="3.6"/><line x1="1403.8" y1="78.6" x2="1403.8" y2="105.6" stroke="#9e9e9e" stroke-width="3.6"/><line x1="1453.8" y1="1580.3" x2="1453.8" y2="1553.3" stroke="#9e9e9e" stroke-width="3.6"/><line x1="1453.8" y1="78.6" x2="1453.8" y2="105.6" stroke="#9e9e9e" stroke-width="3.6"/><line x1="1503.8" y1="1580.3" x2="1503.8" y2="1528.3" stroke="#262626" stroke-width="4.4"/><line x1="1503.8" y1="78.6" x2="1503.8" y2="130.6" stroke="#262626" stroke-width="4.4"/><line x1="1553.8" y1="1580.3" x2="1553.8" y2="1553.3" stroke="#9e9e9e" stroke-width="3.6"/><line x1="1553.8" y1="78.6" x2="1553.8" y2="105.6" stroke="#9e9e9e" stroke-width="3.6"/><line x1="1603.9" y1="1580.3" x2="1603.9" y2="1553.3" stroke="#9e9e9e" stroke-width="3.6"/><line x1="1603.9" y1="78.6" x2="1603.9" y2="105.6" stroke="#9e9e9e" stroke-width="3.6"/><line x1="1653.9" y1="1580.3" x2="1653.9" y2="1553.3" stroke="#9e9e9e" stroke-width="3.6"/><line x1="1653.9" y1="78.6" x2="1653.9" y2="105.6" stroke="#9e9e9e" stroke-width="3.6"/><line x1="1703.9" y1="1580.3" x2="1703.9" y2="1553.3" stroke="#9e9e9e" stroke-width="3.6"/><line x1="1703.9" y1="78.6" x2="1703.9" y2="105.6" stroke="#9e9e9e" stroke-width="3.6"/><line x1="1753.9" y1="1580.3" x2="1753.9" y2="1528.3" stroke="#262626" stroke-width="4.4"/><line x1="1753.9" y1="78.6" x2="1753.9" y2="130.6" stroke="#262626" stroke-width="4.4"/><line x1="1803.9" y1="1580.3" x2="1803.9" y2="1553.3" stroke="#9e9e9e" stroke-width="3.6"/><line x1="1803.9" y1="78.6" x2="1803.9" y2="105.6" stroke="#9e9e9e" stroke-width="3.6"/><line x1="1854" y1="1580.3" x2="1854" y2="1553.3" stroke="#9e9e9e" stroke-width="3.6"/><line x1="1854" y1="78.6" x2="1854" y2="105.6" stroke="#9e9e9e" stroke-width="3.6"/><line x1="1904" y1="1580.3" x2="1904" y2="1553.3" stroke="#9e9e9e" stroke-width="3.6"/><line x1="1904" y1="78.6" x2="1904" y2="105.6" stroke="#9e9e9e" stroke-width="3.6"/><line x1="1954" y1="1580.3" x2="1954" y2="1553.3" stroke="#9e9e9e" stroke-width="3.6"/><line x1="1954" y1="78.6" x2="1954" y2="105.6" stroke="#9e9e9e" stroke-width="3.6"/>
<rect x="503.5" y="78.6" width="1500.5" height="1501.7" fill="none" stroke="#161616" stroke-width="7"/>
<g fill="#191919" font-size="118" font-family="'Liberation Sans', Arial, Helvetica, sans-serif"><g transform="translate(443.9,1744.3) scale(1,1.02)"><text x="0" y="0" stroke="#fefdfc" stroke-width="0.9">0</text></g><g transform="translate(637.5,1744.3) scale(1,1.02)"><text x="0" y="0" stroke="#fefdfc" stroke-width="0.9"><tspan dx="5">1</tspan><tspan dx="-5">0</tspan></text><rect x="11" y="-10.3" width="24.45" height="11.8" fill="#fefdfc"/><rect x="44.5" y="-10.3" width="22.45" height="11.8" fill="#fefdfc"/></g><g transform="translate(896.7,1744.3) scale(1,1.02)"><text x="0" y="0" stroke="#fefdfc" stroke-width="0.9">20</text></g><g transform="translate(1157.6,1744.3) scale(1,1.02)"><text x="0" y="0" stroke="#fefdfc" stroke-width="0.9">30</text></g><g transform="translate(1416.5,1744.3) scale(1,1.02)"><text x="0" y="0" stroke="#fefdfc" stroke-width="0.9">40</text></g><g transform="translate(1676.3,1744.3) scale(1,1.02)"><text x="0" y="0" stroke="#fefdfc" stroke-width="0.9">50</text></g><g transform="translate(1934.7,1744.3) scale(1,1.02)"><text x="0" y="0" stroke="#fefdfc" stroke-width="0.9">60</text></g><g transform="translate(296.8,121.3) scale(1,1.02)"><text x="0" y="0" stroke="#fefdfc" stroke-width="0.9"><tspan dx="5">1</tspan><tspan dx="-5">0</tspan></text><rect x="11" y="-10.3" width="24.45" height="11.8" fill="#fefdfc"/><rect x="44.5" y="-10.3" width="22.45" height="11.8" fill="#fefdfc"/></g><g transform="translate(332.6,271.6) scale(1,1.02)"><text x="0" y="0" stroke="#fefdfc" stroke-width="0.9">9</text></g><g transform="translate(332.1,420.9) scale(1,1.02)"><text x="0" y="0" stroke="#fefdfc" stroke-width="0.9">8</text></g><g transform="translate(331.6,572.1) scale(1,1.02)"><text x="0" y="0" stroke="#fefdfc" stroke-width="0.9">7</text></g><g transform="translate(330.9,721.6) scale(1,1.02)"><text x="0" y="0" stroke="#fefdfc" stroke-width="0.9">6</text></g><g transform="translate(332,872.3) scale(1,1.02)"><text x="0" y="0" stroke="#fefdfc" stroke-width="0.9">5</text></g><g transform="translate(330.1,1022.6) scale(1,1.02)"><text x="0" y="0" stroke="#fefdfc" stroke-width="0.9">4</text></g><g transform="translate(332,1172.3) scale(1,1.02)"><text x="0" y="0" stroke="#fefdfc" stroke-width="0.9">3</text></g><g transform="translate(330.8,1323.3) scale(1,1.02)"><text x="0" y="0" stroke="#fefdfc" stroke-width="0.9">2</text></g><g transform="translate(338.1,1472.6) scale(1,1.02)"><text x="0" y="0" stroke="#fefdfc" stroke-width="0.9">1</text><rect x="6" y="-10.3" width="24.45" height="11.8" fill="#fefdfc"/><rect x="39.5" y="-10.3" width="22.45" height="11.8" fill="#fefdfc"/></g><g transform="translate(336.2,1606.6) scale(1,1.02)"><text x="0" y="0" stroke="#fefdfc" stroke-width="0.9">0</text></g></g>
<g fill="#191919" font-size="108.5" font-family="'Liberation Sans', Arial, Helvetica, sans-serif" stroke="#fefdfc" stroke-width="0.9">
<text x="945" y="1888.6">Time, t [min]</text>
<text transform="translate(115.5,1757) rotate(-90)" x="0" y="0">Concentration of palmitic acid from</text>
<text transform="translate(244,1757) rotate(-90)" x="0" y="0">hydrolysis of phospholipid, Cp [mM]</text>
</g>
</svg></body></html>
